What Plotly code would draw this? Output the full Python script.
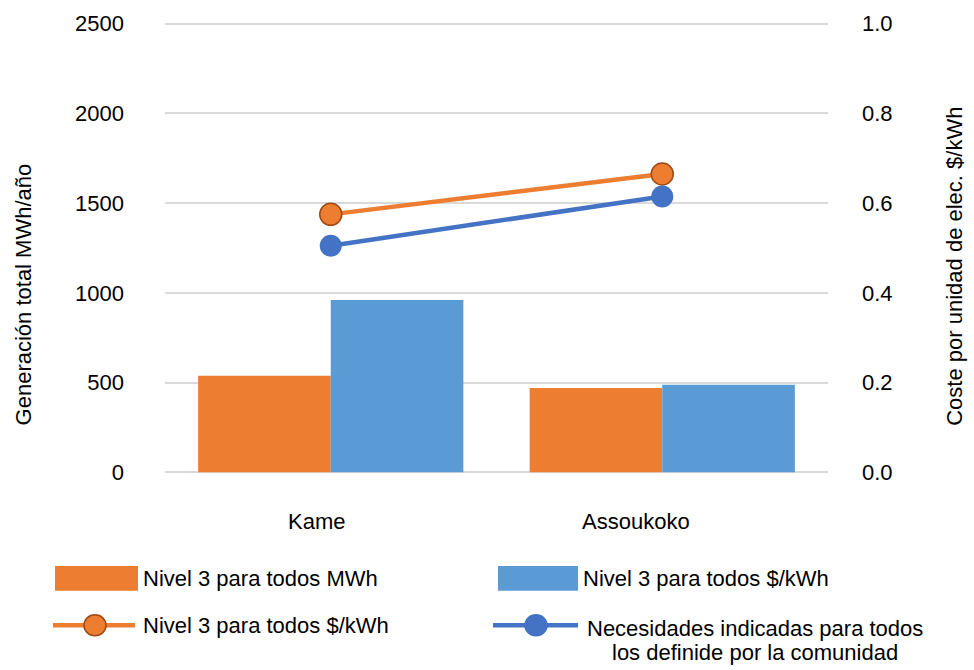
import plotly.graph_objects as go

# ---------------- data ----------------
categories = ["Kame", "Assoukoko"]
bar_names = ["Nivel 3 para todos MWh", "Nivel 3 para todos $/kWh"]
gen_nivel3_mwh = [538, 469]
gen_nivel3_kwh = [960, 487]

line_names = ["Nivel 3 para todos $/kWh",
              "Necesidades indicadas para todos los definide por la comunidad"]
cost_nivel3 = [0.575, 0.665]
cost_necesidades = [0.505, 0.615]

left_tickvals = [0, 500, 1000, 1500, 2000, 2500]
right_tickvals = [0.0, 0.2, 0.4, 0.6, 0.8, 1.0]
left_title = "Generación total MWh/año"
right_title = "Coste por unidad de elec. $/kWh"

# ---------------- style ----------------
W, H = 974, 670
Y_TOP, Y_ZERO = 18.0, 472.0          # pixel rows of 2500 and 0
ML, MR = 165, 146
K = (Y_ZERO - Y_TOP) / 2500.0        # px per unit
EPS_L = 10.0                         # padding so edge grid lines are drawn
EPS_R = EPS_L / 2500.0
MT = Y_TOP - EPS_L * K
MB = H - Y_ZERO - EPS_L * K
PW, PH = W - ML - MR, H - MT - MB
ORANGE = "#ED7D31"
BLUE_BAR = "#5B9BD5"
BLUE_LINE = "#4472C4"
ORANGE_EDGE = "#9E4A14"
FONT = "Liberation Sans, Arial, sans-serif"
FS = 22


def px_x(p):
    return (p - ML) / PW


def px_y(p):
    return (H - MB - p) / PH


fig = go.Figure()
fig.add_trace(go.Bar(x=categories, y=gen_nivel3_mwh, name=bar_names[0],
                     marker=dict(color=ORANGE, line=dict(width=0))))
fig.add_trace(go.Bar(x=categories, y=gen_nivel3_kwh, name=bar_names[1],
                     marker=dict(color=BLUE_BAR, line=dict(width=0))))
fig.add_trace(go.Scatter(x=categories, y=cost_nivel3, name=line_names[0], yaxis="y2",
                         mode="lines+markers",
                         line=dict(color=ORANGE, width=4.5),
                         marker=dict(size=22, color=ORANGE,
                                     line=dict(color=ORANGE_EDGE, width=1.5))))
fig.add_trace(go.Scatter(x=categories, y=cost_necesidades, name=line_names[1], yaxis="y2",
                         mode="lines+markers",
                         line=dict(color=BLUE_LINE, width=4.5),
                         marker=dict(size=22, color=BLUE_LINE,
                                     line=dict(color=BLUE_LINE, width=0))))

annotations = []
shapes = []

# category labels (slightly left of category centre, as in the original)
cat_shifts = [-14, -26]
for c, s in zip(categories, cat_shifts):
    annotations.append(dict(x=c, xref="x", y=px_y(522), yref="paper", text=c,
                            showarrow=False, xanchor="center", yanchor="middle",
                            xshift=s, font=dict(family=FONT, size=FS, color="#000")))

# axis titles
annotations.append(dict(x=px_x(23), y=px_y(292), xref="paper", yref="paper",
                        text=left_title, textangle=-90, showarrow=False,
                        xanchor="center", yanchor="middle",
                        font=dict(family=FONT, size=FS, color="#000")))
annotations.append(dict(x=px_x(955), y=px_y(264), xref="paper", yref="paper",
                        text=right_title, textangle=-90, showarrow=False,
                        xanchor="center", yanchor="middle",
                        font=dict(family=FONT, size=FS, color="#000")))

# ---------------- custom legend ----------------
for (x0, x1), col, name in [((55, 138), ORANGE, bar_names[0]),
                            ((498, 578), BLUE_BAR, bar_names[1])]:
    shapes.append(dict(type="rect", xref="paper", yref="paper",
                       x0=px_x(x0), x1=px_x(x1), y0=px_y(592), y1=px_y(567),
                       fillcolor=col, line=dict(width=0)))
    annotations.append(dict(x=px_x(x1 + 3), y=px_y(580), xref="paper", yref="paper",
                            text=name, showarrow=False, xanchor="left", yanchor="middle",
                            font=dict(family=FONT, size=FS, color="#000")))

for (x0, x1, xc), col, edge in [((53, 135, 95), ORANGE, ORANGE_EDGE),
                                ((493, 578, 536), BLUE_LINE, BLUE_LINE)]:
    shapes.append(dict(type="line", xref="paper", yref="paper",
                       x0=px_x(x0), x1=px_x(x1), y0=px_y(627), y1=px_y(627),
                       line=dict(color=col, width=4.5)))
    shapes.append(dict(type="circle", xref="paper", yref="paper",
                       xsizemode="pixel", ysizemode="pixel",
                       xanchor=px_x(xc), yanchor=px_y(627),
                       x0=-11, x1=11, y0=-10.5, y1=10.5,
                       fillcolor=col, line=dict(color=edge, width=1.5)))

annotations.append(dict(x=px_x(141), y=px_y(627), xref="paper", yref="paper",
                        text=line_names[0], showarrow=False, xanchor="left",
                        yanchor="middle", font=dict(family=FONT, size=FS, color="#000")))
words = line_names[1].split(" ")
leg_lines = [" ".join(words[:4]), " ".join(words[4:])]
for txt, yc in zip(leg_lines, [630, 655]):
    annotations.append(dict(x=px_x(754.5), y=px_y(yc), xref="paper", yref="paper",
                            text=txt, showarrow=False, xanchor="center",
                            yanchor="middle", font=dict(family=FONT, size=FS, color="#000")))

fig.update_layout(
    width=W, height=H,
    margin=dict(l=ML, r=MR, t=MT, b=MB, pad=0),
    plot_bgcolor="white", paper_bgcolor="white",
    barmode="group", bargap=0.2, bargroupgap=0,
    showlegend=False,
    font=dict(family=FONT, size=FS, color="#000"),
    xaxis=dict(type="category", range=[-0.5, 1.5], showticklabels=False,
               showgrid=False, showline=False, zeroline=False, ticks=""),
    yaxis=dict(range=[-EPS_L, 2500 + EPS_L], tickvals=left_tickvals, ticks="",
               showgrid=True, gridcolor="#D9D9D9", gridwidth=1.5,
               zeroline=False, showline=False, ticklabelstandoff=40,
               tickfont=dict(family=FONT, size=FS, color="#000")),
    yaxis2=dict(range=[-EPS_R, 1 + EPS_R], tickvals=right_tickvals, tickformat=".1f",
                overlaying="y", side="right", ticks="", showgrid=False,
                zeroline=False, showline=False, ticklabelstandoff=33,
                tickfont=dict(family=FONT, size=FS, color="#000")),
    annotations=annotations,
    shapes=shapes,
)

fig.write_html("out.html", config={"displayModeBar": False},
               post_script="document.body.style.margin='0';document.body.style.padding='0';")
